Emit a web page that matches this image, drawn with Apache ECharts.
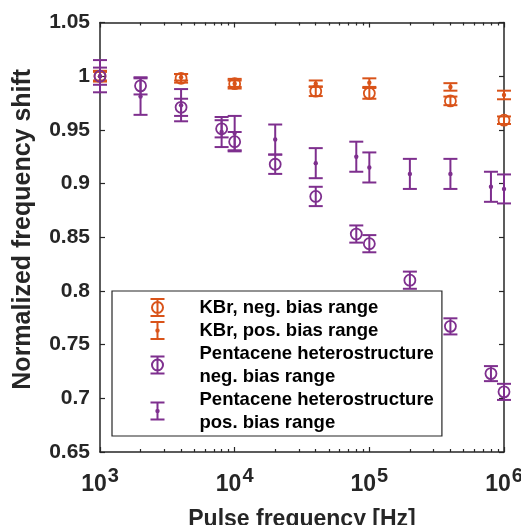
<!DOCTYPE html>
<html>
<head>
<meta charset="utf-8">
<script src="https://cdn.jsdelivr.net/npm/echarts@6/dist/echarts.min.js"></script>
<style>html,body{margin:0;padding:0;background:#fff}#c{width:521px;height:525px}</style>
</head>
<body>
<div id="c"></div>
<script>
// ---- data ----
const kbrX = [1e3, 4e3, 1e4, 4e4, 1e5, 4e5, 1e6];
const kbrNegY = [1.000, 0.998, 0.993, 0.986, 0.984, 0.977, 0.959];
const kbrNegErr = [0.005, 0.004, 0.0045, 0.0045, 0.005, 0.004, 0.0035];
const kbrPosY = [1.000, 0.999, 0.993, 0.993, 0.994, 0.990, 0.9825];
const kbrPosErr = [0.004, 0.003, 0.003, 0.003, 0.004, 0.0035, 0.004];

const pentX = [1e3, 2e3, 4e3, 8e3, 1e4, 2e4, 4e4, 8e4, 1e5, 2e5, 4e5, 8e5, 1e6];
const pentNegY = [1.000, 0.991, 0.971, 0.951, 0.939, 0.918, 0.888, 0.853, 0.844, 0.810, 0.767, 0.723, 0.706];
const pentNegErr = [0.008, 0.008, 0.008, 0.008, 0.009, 0.009, 0.009, 0.008, 0.008, 0.008, 0.0075, 0.007, 0.0075];
const pentPosY = [1.000, 0.981, 0.973, 0.948, 0.947, 0.941, 0.919, 0.925, 0.915, 0.909, 0.909, 0.897, 0.895];
const pentPosErr = [0.015, 0.017, 0.015, 0.014, 0.016, 0.014, 0.014, 0.014, 0.014, 0.014, 0.014, 0.014, 0.0135];

const seriesNames = [
  'KBr, neg. bias range',
  'KBr, pos. bias range',
  'Pentacene heterostructure\nneg. bias range',
  'Pentacene heterostructure\npos. bias range'
];
const xTickExponents = [3, 4, 5, 6];
const yTickLabels = ['0.65','0.7','0.75','0.8','0.85','0.9','0.95','1','1.05'];
const xAxisTitle = 'Pulse frequency [Hz]';
const yAxisTitle = 'Normalized frequency shift';

// minor tick positions (log10 space)
const minorTickVals = [];
for (let e = 3; e < 6; e++) for (let m = 2; m <= 9; m++) minorTickVals.push(e + Math.log10(m));

const ORANGE = '#D95319', PURPLE = '#7E2F8E', AX = '#262626';
const FONT = 'Liberation Sans';

function zip(xs, ys, es) { return xs.map((x, i) => [x, ys[i], es[i]]); }

function makeRender(color, marker) {
  return function (params, api) {
    const x = api.value(0), y = api.value(1), e = api.value(2);
    const c = api.coord([x, y]);
    const t = api.coord([x, y + e]);
    const b = api.coord([x, y - e]);
    const hw = 7;
    const st = { stroke: color, lineWidth: 2, fill: null };
    const children = [
      { type: 'line', shape: { x1: c[0], y1: t[1], x2: c[0], y2: b[1] }, style: st },
      { type: 'line', shape: { x1: c[0] - hw, y1: t[1], x2: c[0] + hw, y2: t[1] }, style: st },
      { type: 'line', shape: { x1: c[0] - hw, y1: b[1], x2: c[0] + hw, y2: b[1] }, style: st }
    ];
    if (marker === 'circle') {
      children.push({ type: 'circle', shape: { cx: c[0], cy: c[1], r: 5.5 }, style: { stroke: color, lineWidth: 1.8, fill: 'none' } });
    } else {
      children.push({ type: 'circle', shape: { cx: c[0], cy: c[1], r: 2.2 }, style: { fill: color, stroke: null } });
    }
    return { type: 'group', children: children };
  };
}

function errSeries(name, data, color, marker) {
  return {
    type: 'custom', name: name, xAxisIndex: 0, yAxisIndex: 0,
    data: data, encode: { x: 0, y: 1 }, clip: false,
    itemStyle: { color: color },
    renderItem: makeRender(color, marker), silent: true
  };
}

// icon paths padded with move-to points so the glyph sits centred in a 74x17 box
const iconCircle = 'path://M-30,0M44,17M0,0H14M7,0V17M0,17H14M12.5,8.5A5.5,5.5 0 1,1 1.5,8.5A5.5,5.5 0 1,1 12.5,8.5Z';
const iconDot = 'path://M-30,0M44,17M0,0H14M7,0V17M0,17H14M8.2,8.5A1.2,1.2 0 1,1 5.8,8.5A1.2,1.2 0 1,1 8.2,8.5Z';

const chart = echarts.init(document.getElementById('c'), null, { renderer: 'canvas' });

const axisLineStyle = { color: AX, width: 1.5 };
const grid = { left: 100, right: 17, top: 22.5, bottom: 73, containLabel: false, outerBoundsMode: 'none' };

chart.setOption({
  animation: false,
  backgroundColor: '#fff',
  grid: grid,
  xAxis: [
    {
      type: 'log', logBase: 10, min: 1e3, max: 1e6, interval: 1, position: 'bottom',
      axisLine: { show: true, onZero: false, lineStyle: axisLineStyle },
      axisTick: { show: true, inside: true, length: 5, lineStyle: { color: AX, width: 1.2 } },
      splitLine: { show: false },
      axisLabel: {
        margin: 14, color: AX, fontFamily: FONT, fontWeight: 'bold',
        formatter: function (v) {
          const ex = Math.round(Math.log10(v));
          return xTickExponents.indexOf(ex) >= 0 ? '{b|10}{s|' + ex + '}' : '';
        },
        rich: {
          b: { fontSize: 23, fontWeight: 'bold', fontFamily: FONT, color: AX, lineHeight: 30, verticalAlign: 'bottom' },
          s: { fontSize: 20, fontWeight: 'bold', fontFamily: FONT, color: AX, verticalAlign: 'top', padding: [0, 0, 10, 1] }
        }
      },
      name: xAxisTitle, nameLocation: 'middle', nameGap: 56,
      nameTextStyle: { fontSize: 23, fontWeight: 'bold', fontFamily: FONT, color: AX }
    },
    {
      type: 'log', logBase: 10, min: 1e3, max: 1e6, interval: 1, position: 'top',
      axisLine: { show: true, onZero: false, lineStyle: axisLineStyle },
      axisTick: { show: true, inside: true, length: 5, lineStyle: { color: AX, width: 1.2 } },
      axisLabel: { show: false }, splitLine: { show: false }
    },
    {
      type: 'value', min: 3, max: 6, position: 'bottom',
      axisLine: { show: false }, axisLabel: { show: false }, splitLine: { show: false },
      axisTick: { show: true, inside: true, length: 3, customValues: minorTickVals, lineStyle: { color: AX, width: 1.2 } }
    },
    {
      type: 'value', min: 3, max: 6, position: 'top',
      axisLine: { show: false }, axisLabel: { show: false }, splitLine: { show: false },
      axisTick: { show: true, inside: true, length: 3, customValues: minorTickVals, lineStyle: { color: AX, width: 1.2 } }
    }
  ],
  yAxis: [
    {
      type: 'value', min: 0.65, max: 1.05, interval: 0.05, position: 'left',
      axisLine: { show: true, onZero: false, lineStyle: axisLineStyle },
      axisTick: { show: true, inside: true, length: 5, lineStyle: { color: AX, width: 1.2 } },
      splitLine: { show: false },
      axisLabel: {
        margin: 10, fontSize: 21, fontWeight: 'bold', fontFamily: FONT, color: AX,
        formatter: function (v, i) { return yTickLabels[i] !== undefined ? yTickLabels[i] : String(v); }
      },
      name: yAxisTitle, nameLocation: 'middle', nameGap: 64, nameRotate: 90,
      nameTextStyle: { fontSize: 25, fontWeight: 'bold', fontFamily: FONT, color: AX, padding: [0, 0, 0, 16] }
    },
    {
      type: 'value', min: 0.65, max: 1.05, interval: 0.05, position: 'right',
      axisLine: { show: true, onZero: false, lineStyle: axisLineStyle },
      axisTick: { show: true, inside: true, length: 5, lineStyle: { color: AX, width: 1.2 } },
      axisLabel: { show: false }, splitLine: { show: false }
    }
  ],
  legend: {
    left: 112, top: 291, orient: 'vertical', itemGap: 0,
    itemWidth: 74, itemHeight: 17, padding: [5, 8, 2, 6],
    borderColor: AX, borderWidth: 1.2, backgroundColor: '#fff', selectedMode: false,
    textStyle: { fontSize: 18.5, fontWeight: 'bold', fontFamily: FONT, color: '#000', lineHeight: 23 },
    data: [
      { name: seriesNames[0], icon: iconCircle, itemStyle: { color: 'none', borderColor: ORANGE, borderWidth: 2 } },
      { name: seriesNames[1], icon: iconDot, itemStyle: { color: 'none', borderColor: ORANGE, borderWidth: 2 } },
      { name: seriesNames[2], icon: iconCircle, itemStyle: { color: 'none', borderColor: PURPLE, borderWidth: 2 } },
      { name: seriesNames[3], icon: iconDot, itemStyle: { color: 'none', borderColor: PURPLE, borderWidth: 2 } }
    ]
  },
  series: [
    errSeries(seriesNames[0], zip(kbrX, kbrNegY, kbrNegErr), ORANGE, 'circle'),
    errSeries(seriesNames[1], zip(kbrX, kbrPosY, kbrPosErr), ORANGE, 'dot'),
    errSeries(seriesNames[2], zip(pentX, pentNegY, pentNegErr), PURPLE, 'circle'),
    errSeries(seriesNames[3], zip(pentX, pentPosY, pentPosErr), PURPLE, 'dot')
  ]
});
</script>
</body>
</html>
